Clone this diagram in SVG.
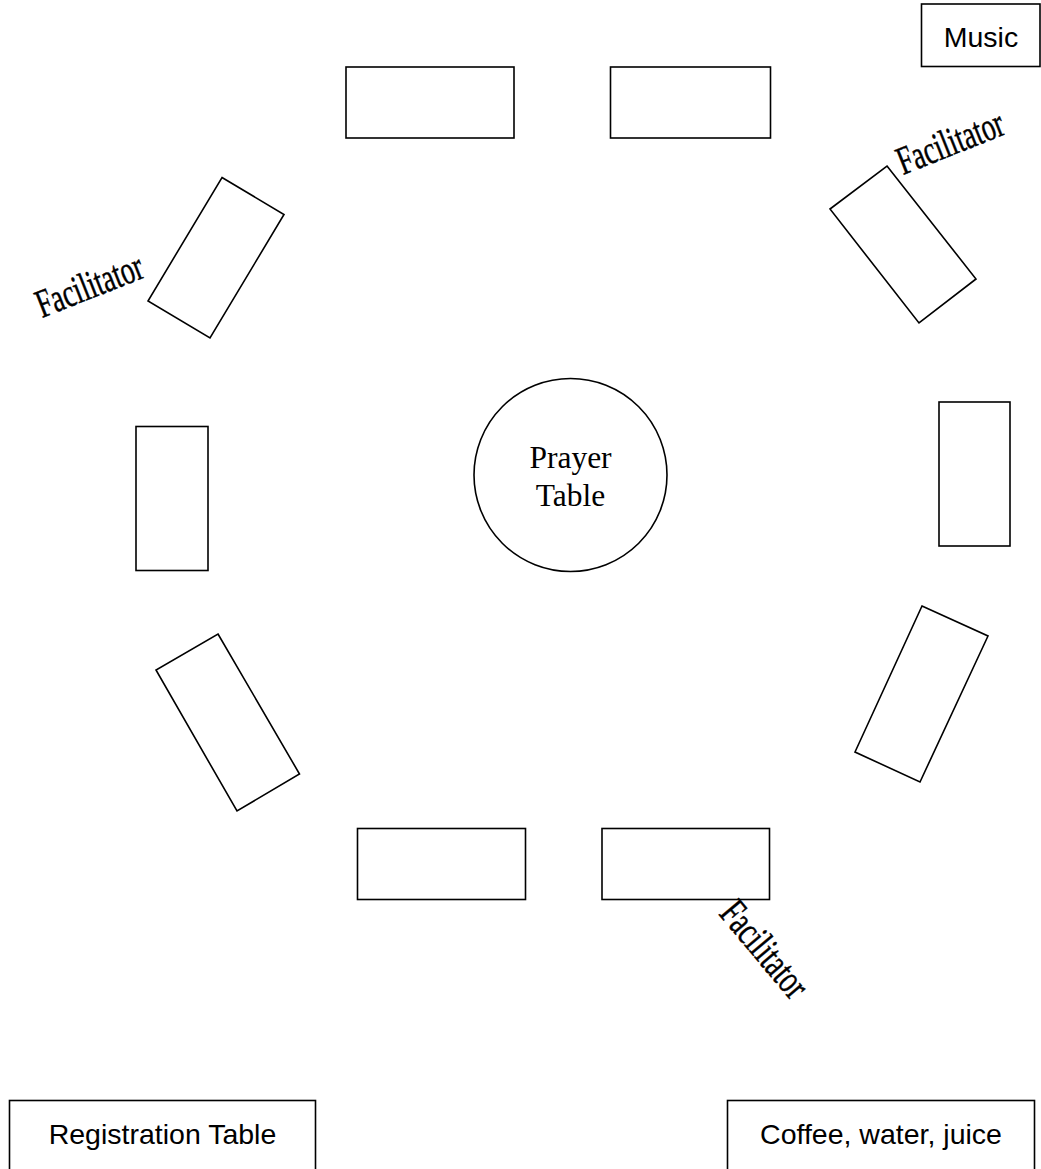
<svg xmlns="http://www.w3.org/2000/svg" width="1041" height="1169" viewBox="0 0 1041 1169">
<style>
.t{fill:#fff;stroke:#000;stroke-width:1.6}
.lbl{font-family:"Liberation Sans",Arial,sans-serif;font-size:28.5px;fill:#000}
.ser{font-family:"Liberation Serif","Times New Roman",serif;font-size:31.5px;fill:#000;text-anchor:middle}
.fac{font-family:"Liberation Serif","Times New Roman",serif;font-size:40px;fill:#000;stroke:#000;stroke-width:0.5}
</style>
<rect width="1041" height="1169" fill="#fff"/>
<g id="connectors"/>
<g id="music"><rect class="t" x="921.5" y="4" width="118.5" height="62.5"/><text class="lbl" x="981" y="46.5" text-anchor="middle">Music</text></g>
<g id="table-top-left"><rect class="t" x="346" y="67" width="168" height="71"/></g>
<g id="table-top-right"><rect class="t" x="610.5" y="67" width="160" height="71"/></g>
<g id="table-upper-left"><polygon class="t" points="222,177.5 284,214.5 210,338 148,301"/></g>
<g id="table-upper-right"><polygon class="t" points="887,166 976,279 919,323 830,209"/></g>
<g id="table-left"><rect class="t" x="136" y="426.5" width="72" height="144"/></g>
<g id="table-right"><rect class="t" x="939" y="402" width="71" height="144"/></g>
<g id="table-lower-left"><polygon class="t" points="218,634 299.5,774 237,811 156,670"/></g>
<g id="table-lower-right"><polygon class="t" points="922,606 988,636 920,782 855,752"/></g>
<g id="table-bottom-left"><rect class="t" x="357.5" y="828.5" width="168" height="71"/></g>
<g id="table-bottom-right"><rect class="t" x="602" y="828.5" width="167.5" height="71"/></g>
<g id="prayer-table"><circle class="t" cx="570.5" cy="475" r="96.5"/><text class="ser" x="570.5" y="468">Prayer</text><text class="ser" x="570.5" y="506">Table</text></g>
<g id="facilitator-left"><text class="fac" transform="translate(42,318) rotate(-21.5)" textLength="112" lengthAdjust="spacingAndGlyphs">Facilitator</text></g>
<g id="facilitator-right"><text class="fac" transform="translate(903,175) rotate(-21.7)" textLength="112" lengthAdjust="spacingAndGlyphs">Facilitator</text></g>
<g id="facilitator-bottom"><text class="fac" transform="translate(718,914) rotate(50)" textLength="114" lengthAdjust="spacingAndGlyphs">Facilitator</text></g>
<g id="registration"><rect class="t" x="9.5" y="1100.5" width="306" height="80"/><text class="lbl" x="162.5" y="1144" text-anchor="middle">Registration Table</text></g>
<g id="refreshments"><rect class="t" x="727.5" y="1100.5" width="307" height="80"/><text class="lbl" x="881" y="1143.5" text-anchor="middle">Coffee, water, juice</text></g>
</svg>
